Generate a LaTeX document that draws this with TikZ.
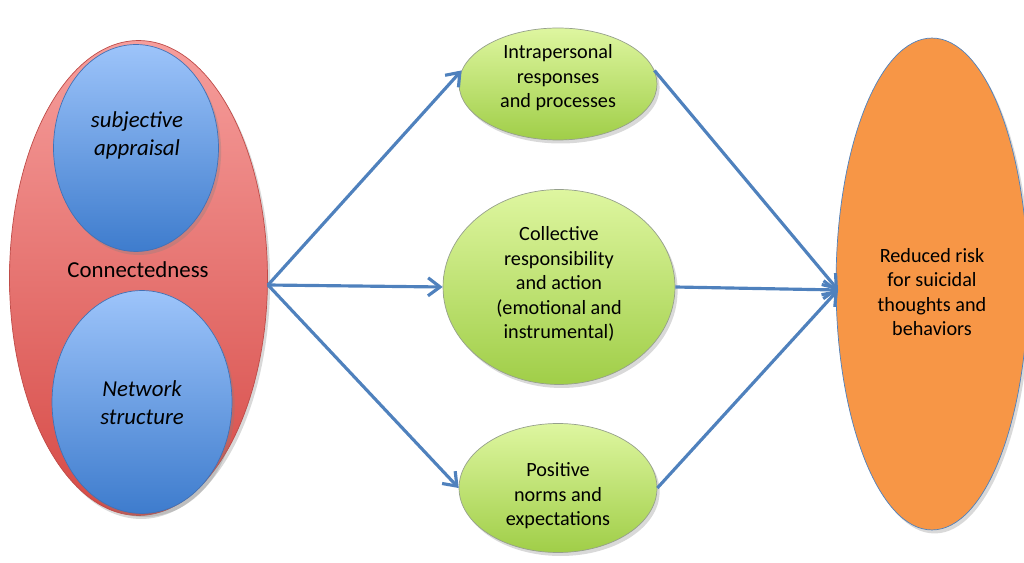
\documentclass[tikz,border=0pt]{standalone}
\usepackage{fontspec}
\setmainfont{Carlito}
\usetikzlibrary{shapes.geometric}
\usetikzlibrary{shadows}
\usetikzlibrary{arrows.meta}

\definecolor{linkblue}{RGB}{79,129,189}
\definecolor{redtop}{RGB}{246,158,156}
\definecolor{redbot}{RGB}{214,74,70}
\definecolor{redline}{RGB}{190,75,72}
\definecolor{bluetop}{RGB}{157,196,250}
\definecolor{bluebot}{RGB}{62,124,205}
\definecolor{blueline}{RGB}{66,114,182}
\definecolor{greentop}{RGB}{222,246,160}
\definecolor{greenbot}{RGB}{160,206,72}
\definecolor{greenline}{RGB}{150,160,140}
\definecolor{orangefill}{RGB}{247,150,70}

\begin{document}
\begin{tikzpicture}[
        x = 0.02cm, y = -0.02cm,
        oval/.style = {ellipse, inner sep=0pt,
            drop shadow={opacity=0.3, shadow xshift=1.5pt, shadow yshift=-2pt}},
        link/.style = {draw=linkblue, line width=1.8pt,
            -{Straight Barb[length=0.24cm,width=0.36cm]}},
        txt/.style = {align=center, font=\fontsize{11.5}{14}\selectfont},
        ]

        \useasboundingbox (0,0) rectangle (1024,563);

        % Connectedness
        \node[oval, draw=redline, top color=redtop, bottom color=redbot,
            minimum width=5.16cm, minimum height=9.5cm] (conn) at (138.5,278) {};
        \node[oval, draw=blueline, top color=bluetop, bottom color=bluebot,
            minimum width=3.3cm, minimum height=4.14cm] (subj) at (136,148) {};
        \node[oval, draw=blueline, top color=bluetop, bottom color=bluebot,
            minimum width=3.6cm, minimum height=4.46cm] (netw) at (142,402) {};
        \node[font=\fontsize{13}{15.5}\selectfont] (connlabel) at (138,270) {Connectedness};
        \node[align=center, font=\fontsize{13}{15.9}\selectfont\itshape] (subjlabel)
            at (137,135) {subjective\\appraisal};
        \node[align=center, font=\fontsize{13}{15.9}\selectfont\itshape] (netwlabel)
            at (142,403) {Network\\structure};

        % Mediators
        \node[oval, draw=greenline, top color=greentop, bottom color=greenbot,
            minimum width=3.96cm, minimum height=2.24cm] (intra) at (558,84) {};
        \node[oval, draw=greenline, top color=greentop, bottom color=greenbot,
            minimum width=4.64cm, minimum height=3.9cm] (coll) at (559,287) {};
        \node[oval, draw=greenline, top color=greentop, bottom color=greenbot,
            minimum width=3.96cm, minimum height=2.58cm] (norms) at (558,488) {};
        \node[txt] (intralabel) at (558,78) {Intrapersonal\\responses\\and processes};
        \node[txt] (colllabel) at (559,284) {Collective\\responsibility\\and action\\(emotional and\\instrumental)};
        \node[txt] (normslabel) at (558,496) {Positive\\norms and\\expectations};

        % Outcome
        \node[oval, draw=linkblue, fill=orangefill,
            minimum width=3.84cm, minimum height=9.84cm] (goal) at (932,284) {};
        \node[txt] (goallabel) at (932,292) {Reduced risk\\for suicidal\\thoughts and\\behaviors};

        % Links
        \coordinate (hub) at (268,285);
        \coordinate (sink) at (838,290);
        \draw[link] (hub) -- (intra.172);
        \draw[link] (hub) -- (coll.west);
        \draw[link] (hub) -- (norms.west);
        \draw[link] (intra.8) -- (sink);
        \draw[link] (coll.east) -- (sink);
        \draw[link] (norms.east) -- (sink);
    \end{tikzpicture}
\end{document}
